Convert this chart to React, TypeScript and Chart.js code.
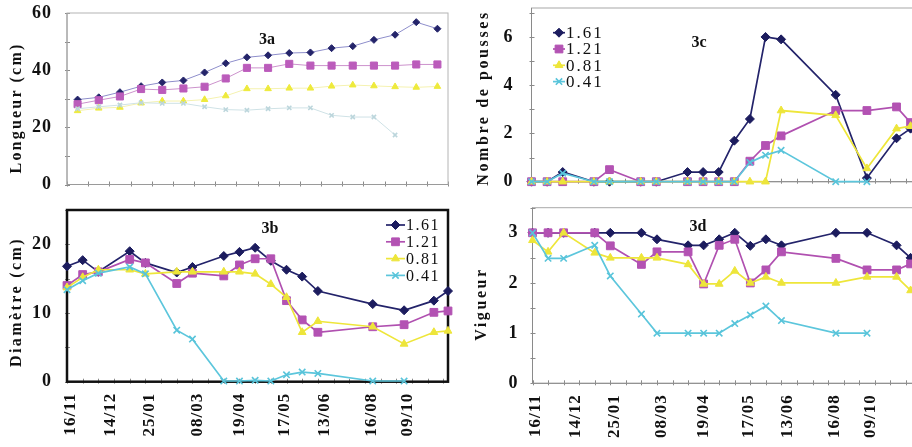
import React, { useEffect, useRef } from 'react';
import { Chart, registerables } from 'chart.js';
import { drawPoint } from 'chart.js/helpers';

Chart.register(...registerables);

const SERIF = "'Liberation Serif', 'Times New Roman', serif";

// ---------------- data ----------------
const seriesNames = ['1.61', '1.21', '0.81', '0.41'];

// panel 3a: evenly spaced sampling categories
const sampleOrder = [0, 1, 2, 3, 4, 5, 6, 7, 8, 9, 10, 11, 12, 13, 14, 15, 16, 17];
// panels 3b-3d: sampling positions on the date axis
const samplePos = [0, 1, 2, 4, 5, 7, 8, 10, 11, 12, 13, 14, 15, 16, 19.5, 21.5, 23.4, 24.3];

const dateTickLabels = ['16/11', '14/12', '25/01', '08/03', '19/04', '17/05', '13/06', '16/08', '09/10'];
const dateTickPos = [0.2, 2.8, 5.3, 8.3, 11, 13.9, 16.4, 19.4, 21.7];

// 3a Longueur (cm)
const longueur161 = [29.7, 30.5, 32.3, 34.4, 35.7, 36.4, 39.2, 42.4, 44.5, 45.2, 46.0, 46.2, 47.7, 48.4, 50.6, 52.4, 56.8, 54.5];
const longueur121 = [28.1, 29.5, 30.8, 33.4, 33.1, 33.6, 34.2, 37.1, 40.8, 40.8, 42.2, 41.6, 41.6, 41.6, 41.6, 41.6, 42.0, 42.0];
const longueur081 = [25.8, 26.7, 27.0, 28.5, 29.2, 29.2, 29.7, 31.0, 33.5, 33.5, 33.7, 33.7, 34.4, 34.8, 34.5, 34.2, 34.0, 34.3];
const longueur041 = [26.5, 27.2, 27.8, 28.6, 28.4, 28.4, 27.2, 26.2, 26.0, 26.5, 26.8, 26.8, 24.2, 23.6, 23.6, 17.3];

// 3b Diamètre (cm)
const diametre161 = [16.8, 17.7, 16.0, 19.0, 17.3, 15.9, 16.7, 18.3, 18.9, 19.5, 17.6, 16.3, 15.3, 13.2, 11.3, 10.4, 11.8, 13.2];
const diametre121 = [14.0, 15.6, 16.0, 17.8, 17.3, 14.3, 15.8, 15.4, 17.0, 17.9, 17.9, 11.8, 9.0, 7.2, 8.0, 8.3, 10.1, 10.3];
const diametre081 = [13.7, 15.2, 16.3, 16.3, 15.7, 16.0, 16.0, 16.0, 16.0, 15.7, 14.2, 12.3, 7.2, 8.8, 8.0, 5.5, 7.2, 7.4];
const diametre041 = [13.4, 14.7, 15.8, 16.7, 15.7, 7.5, 6.2, 0.1, 0.1, 0.2, 0.1, 1.0, 1.4, 1.2, 0.1, 0.1];

// 3c Nombre de pousses
const pousses161 = [0, 0, 0.4, 0, 0, 0, 0, 0.4, 0.4, 0.4, 1.7, 2.6, 6.0, 5.9, 3.6, 0.15, 1.8, 2.2];
const pousses121 = [0, 0, 0, 0, 0.5, 0, 0, 0, 0, 0, 0, 0.85, 1.5, 1.9, 2.95, 2.95, 3.1, 2.45];
const pousses081 = [0, 0, 0, 0, 0, 0, 0, 0, 0, 0, 0, 0, 0, 2.95, 2.75, 0.55, 2.2, 2.3];
const pousses041 = [0, 0, 0.35, 0, 0, 0, 0, 0, 0, 0, 0, 0.8, 1.1, 1.3, 0, 0];

// 3d Vigueur
const vigueur161 = [3.0, 3.0, 3.0, 3.0, 3.0, 3.0, 2.87, 2.75, 2.75, 2.87, 3.0, 2.74, 2.87, 2.75, 3.0, 3.0, 2.75, 2.5];
const vigueur121 = [3.0, 3.0, 3.0, 3.0, 2.74, 2.37, 2.62, 2.62, 1.98, 2.75, 2.87, 2.0, 2.26, 2.62, 2.49, 2.26, 2.26, 2.38];
const vigueur081 = [2.85, 2.62, 3.0, 2.6, 2.5, 2.5, 2.5, 2.37, 1.98, 1.98, 2.24, 2.0, 2.12, 2.0, 2.0, 2.12, 2.12, 1.85];
const vigueur041 = [3.0, 2.49, 2.49, 2.75, 2.14, 1.38, 1.0, 1.0, 1.0, 1.0, 1.19, 1.36, 1.54, 1.25, 1.0, 1.0];

// ---------------- styles ----------------
const lineColors = ['#23236a', '#b050b0', '#eee63a', '#5cc6dc'];
const markerColors = ['#1c1c5e', '#b352b3', '#ede53a', '#58c4da'];
const faintLines = ['#8e8ecb', '#cc92cc', '#f5f2b0', '#cfe2e6'];
const faintMarkers = ['#24246a', '#bb5cbb', '#eeea3c', '#bcd6dc'];
const pointStyles = ['rectRot', 'rect', 'triangle', 'crossRot'];
const boldRadius = [4.5, 5.5, 4.5, 4.5];
const faintRadius = [3.5, 5, 3.8, 3];

function buildSets(xs: number[], values: number[][], faint: boolean) {
  return values.map((vals, i) => ({
    label: seriesNames[i],
    data: vals.map((v, j) => ({ x: xs[j], y: v })),
    borderColor: faint ? faintLines[i] : lineColors[i],
    borderWidth: faint ? 1 : 1.7,
    pointStyle: pointStyles[i],
    pointRadius: faint ? faintRadius[i] : boldRadius[i],
    pointBackgroundColor: faint ? faintMarkers[i] : markerColors[i],
    pointBorderColor: faint ? faintMarkers[i] : markerColors[i],
    pointBorderWidth: i === 3 ? 1.6 : 1,
    order: 4 - i,
    tension: 0,
    clip: false,
  }));
}

// ---------------- plugins ----------------
const framePlugin = {
  id: 'frameTicks',
  beforeDatasetsDraw(chart: any, _a: any, opts: any) {
    const { ctx, chartArea: ca, scales } = chart;
    ctx.save();
    ctx.strokeStyle = opts.tickColor;
    ctx.lineWidth = 1;
    ctx.beginPath();
    const xs = scales.x;
    for (let v = opts.xFrom; v <= xs.max + 1e-6; v += opts.xStep) {
      const px = Math.round(xs.getPixelForValue(v)) + 0.5;
      ctx.moveTo(px, ca.bottom - 3);
      ctx.lineTo(px, ca.bottom + 2);
    }
    const ys = scales.y;
    for (let v = ys.min; v <= ys.max + 1e-6; v += opts.yStep) {
      const py = Math.round(ys.getPixelForValue(v)) + 0.5;
      ctx.moveTo(ca.left - 2, py);
      ctx.lineTo(ca.left + 3, py);
    }
    ctx.stroke();
    ctx.strokeStyle = opts.frameColor;
    ctx.lineWidth = opts.frameWidth;
    ctx.strokeRect(ca.left, ca.top, ca.right - ca.left, ca.bottom - ca.top);
    if (opts.axisColor) {
      ctx.strokeStyle = opts.axisColor;
      ctx.beginPath();
      ctx.moveTo(ca.left, ca.bottom);
      ctx.lineTo(ca.right, ca.bottom);
      ctx.moveTo(ca.left, ca.top);
      ctx.lineTo(ca.left, ca.bottom);
      ctx.stroke();
    }
    ctx.restore();
  },
};

const spacingPlugin = {
  id: 'textSpacing',
  beforeDraw(chart: any, _a: any, opts: any) {
    (chart.ctx as any).letterSpacing = opts.spacing || '0px';
  },
};

const insideLegend = {
  id: 'insideLegend',
  afterDatasetsDraw(chart: any, _a: any, opts: any) {
    if (!opts || !opts.show) return;
    const { ctx, chartArea: ca } = chart;
    ctx.save();
    (ctx as any).letterSpacing = opts.spacing;
    ctx.font = opts.font;
    ctx.textBaseline = 'middle';
    ctx.textAlign = 'left';
    chart.data.datasets.forEach((ds: any, i: number) => {
      const y = ca.top + opts.y + i * opts.rowH;
      const x0 = ca.left + opts.x;
      ctx.strokeStyle = ds.borderColor;
      ctx.lineWidth = ds.borderWidth;
      ctx.beginPath();
      ctx.moveTo(x0, y);
      ctx.lineTo(x0 + opts.lineLen, y);
      ctx.stroke();
      ctx.fillStyle = ds.pointBackgroundColor;
      ctx.strokeStyle = ds.pointBorderColor;
      ctx.lineWidth = ds.pointBorderWidth;
      drawPoint(ctx, { pointStyle: ds.pointStyle, radius: ds.pointRadius, borderWidth: ds.pointBorderWidth, rotation: 0 } as any, x0 + opts.lineLen / 2, y);
      ctx.fillStyle = '#111';
      ctx.fillText(ds.label, x0 + opts.lineLen + 1, y + 1);
    });
    ctx.restore();
  },
};

// ---------------- config factory ----------------
type PanelCfg = {
  sets: any[];
  xMin: number;
  xMax: number;
  xFrom: number;
  showDates: boolean;
  yMax: number;
  yStep: number;
  yMinor: number;
  yWidth: number;
  xHeight: number;
  padTop: number;
  padRight: number;
  yPad: number;
  frameColor: string;
  frameWidth: number;
  axisColor?: string;
  legend?: any;
};

function makeConfig(p: PanelCfg): any {
  return {
    type: 'line',
    data: { datasets: p.sets },
    plugins: [framePlugin, spacingPlugin, insideLegend],
    options: {
      animation: false,
      responsive: true,
      maintainAspectRatio: false,
      layout: { padding: { top: p.padTop, right: p.padRight, left: 0, bottom: 0 } },
      plugins: {
        legend: { display: false },
        tooltip: { enabled: false },
        title: { display: false },
        frameTicks: {
          tickColor: '#8a8a8a',
          xFrom: p.xFrom,
          xStep: 1,
          yStep: p.yMinor,
          frameColor: p.frameColor,
          frameWidth: p.frameWidth,
          axisColor: p.axisColor,
        },
        textSpacing: { spacing: '1px' },
        insideLegend: p.legend || { show: false },
      },
      scales: {
        x: {
          type: 'linear',
          min: p.xMin,
          max: p.xMax,
          grid: { display: false, drawTicks: false },
          border: { display: false },
          afterFit: (s: any) => {
            s.height = p.xHeight;
            s.paddingLeft = 0;
            s.paddingRight = 0;
            s.paddingTop = 0;
            s.paddingBottom = 0;
          },
          afterBuildTicks: (s: any) => {
            if (p.showDates) s.ticks = dateTickPos.map((v) => ({ value: v }));
          },
          ticks: {
            display: p.showDates,
            autoSkip: false,
            minRotation: 90,
            maxRotation: 90,
            padding: 11,
            color: '#111',
            font: { family: SERIF, weight: 'bold', size: 17 },
            callback: (_v: any, i: number) => dateTickLabels[i],
          },
        },
        y: {
          type: 'linear',
          min: 0,
          max: p.yMax,
          grid: { display: false, drawTicks: false },
          border: { display: false },
          afterFit: (s: any) => {
            s.width = p.yWidth;
            s.paddingTop = 0;
            s.paddingBottom = 0;
            s.paddingLeft = 0;
            s.paddingRight = 0;
          },
          ticks: {
            stepSize: p.yStep,
            includeBounds: false,
            padding: p.yPad,
            color: '#111',
            font: { family: SERIF, weight: 'bold', size: 18 },
          },
        },
      },
    },
  };
}

const configA = () =>
  makeConfig({
    sets: buildSets(sampleOrder, [longueur161, longueur121, longueur081, longueur041], true),
    xMin: -0.5,
    xMax: 17.5,
    xFrom: -0.5,
    showDates: false,
    yMax: 60,
    yStep: 20,
    yMinor: 10,
    yWidth: 67,
    xHeight: 10.5,
    padTop: 13,
    padRight: 12,
    yPad: 15,
    frameColor: '#b4b4b4',
    frameWidth: 1,
    axisColor: '#9a9a9a',
  });

const configB = () =>
  makeConfig({
    sets: buildSets(samplePos, [diametre161, diametre121, diametre081, diametre041], false),
    xMin: 0,
    xMax: 24.3,
    xFrom: 0,
    showDates: true,
    yMax: 25,
    yStep: 10,
    yMinor: 5,
    yWidth: 67,
    xHeight: 65.3,
    padTop: 15,
    padRight: 12,
    yPad: 15,
    frameColor: '#111',
    frameWidth: 2.5,
    legend: { show: true, x: 319, y: 15, rowH: 16.8, lineLen: 19, font: `16px ${SERIF}`, spacing: '1.5px' },
  });

const configC = () =>
  makeConfig({
    sets: buildSets(samplePos, [pousses161, pousses121, pousses081, pousses041], false),
    xMin: 0,
    xMax: 24.5,
    xFrom: 0,
    showDates: false,
    yMax: 7.2,
    yStep: 2,
    yMinor: 1,
    yWidth: 71.5,
    xHeight: 13.3,
    padTop: 8,
    padRight: 16.3,
    yPad: 18,
    frameColor: '#a8a8a8',
    frameWidth: 1,
    axisColor: '#8a8a8a',
    legend: { show: true, x: 21.5, y: 24.7, rowH: 16.3, lineLen: 12, font: `17px ${SERIF}`, spacing: '2px' },
  });

const configD = () =>
  makeConfig({
    sets: buildSets(samplePos, [vigueur161, vigueur121, vigueur081, vigueur041], false),
    xMin: 0,
    xMax: 24.5,
    xFrom: 0,
    showDates: true,
    yMax: 3.5,
    yStep: 1,
    yMinor: 0.5,
    yWidth: 72.5,
    xHeight: 63.7,
    padTop: 12.7,
    padRight: 16.3,
    yPad: 14,
    frameColor: '#a8a8a8',
    frameWidth: 1,
    axisColor: '#8a8a8a',
  });

// ---------------- components ----------------
function ChartPanel(props: { left: number; top: number; width: number; height: number; make: () => any }) {
  const ref = useRef<HTMLCanvasElement>(null);
  useEffect(() => {
    const chart = new Chart(ref.current as HTMLCanvasElement, props.make());
    return () => chart.destroy();
  }, []);
  return (
    <div style={{ position: 'absolute', left: props.left, top: props.top, width: props.width, height: props.height }}>
      <canvas ref={ref} />
    </div>
  );
}

function VTitle(props: { text: string; x: number; y: number; spacing: number }) {
  return (
    <div
      style={{
        position: 'absolute',
        left: props.x,
        top: props.y,
        transform: 'translate(-50%, -50%) rotate(-90deg)',
        whiteSpace: 'nowrap',
        fontFamily: SERIF,
        fontWeight: 'bold',
        fontSize: 16,
        letterSpacing: props.spacing,
        color: '#111',
        lineHeight: 1,
      }}
    >
      {props.text}
    </div>
  );
}

function PanelTag(props: { text: string; x: number; y: number }) {
  return (
    <div
      style={{
        position: 'absolute',
        left: props.x,
        top: props.y,
        transform: 'translate(-50%, -50%)',
        fontFamily: SERIF,
        fontWeight: 'bold',
        fontSize: 16,
        color: '#111',
        lineHeight: 1,
      }}
    >
      {props.text}
    </div>
  );
}

export default function App() {
  return (
    <div style={{ position: 'fixed', left: 0, top: 0, width: 912, height: 447, overflow: 'hidden', background: '#fff' }}>
      <ChartPanel left={0} top={0} width={460} height={195} make={configA} />
      <ChartPanel left={0} top={195} width={460} height={252} make={configB} />
      <ChartPanel left={460} top={0} width={470} height={195} make={configC} />
      <ChartPanel left={460} top={195} width={470} height={252} make={configD} />
      <VTitle text="Longueur (cm)" x={16} y={108} spacing={2.2} />
      <VTitle text="Diamètre (cm)" x={16} y={302} spacing={2.4} />
      <VTitle text="Nombre de pousses" x={483} y={98} spacing={2.6} />
      <VTitle text="Vigueur" x={481} y={304} spacing={2.6} />
      <PanelTag text="3a" x={267} y={39} />
      <PanelTag text="3b" x={270} y={228} />
      <PanelTag text="3c" x={699} y={42} />
      <PanelTag text="3d" x={698} y={226} />
    </div>
  );
}
